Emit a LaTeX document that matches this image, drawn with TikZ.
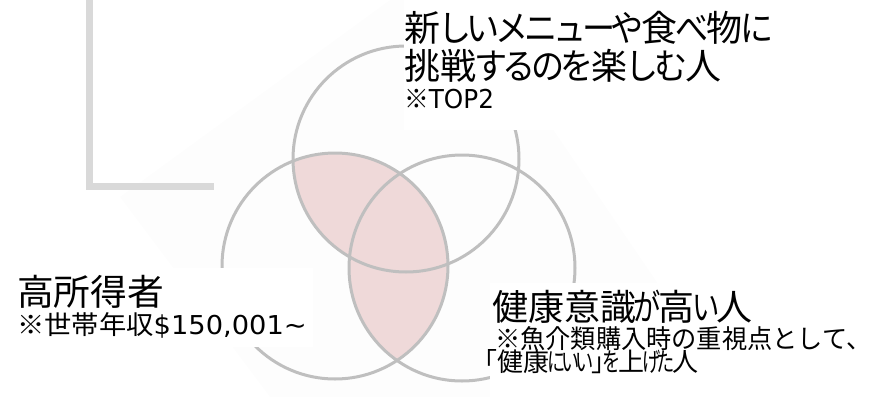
\documentclass[tikz,border=0pt]{standalone}
\usepackage{fontspec}
\newfontfamily\jp{Noto Sans CJK JP}
\newfontfamily\lat{DejaVu Sans}
% proportional kana of three widths
\newcommand\ka[1]{\makebox[0.8em]{\scalebox{0.92}[1]{#1}}}
\newcommand\kb[1]{\makebox[0.62em]{\scalebox{0.76}[1]{#1}}}
\newcommand\kc[1]{\makebox[0.54em]{\scalebox{0.7}[1]{#1}}}
\definecolor{venn}{HTML}{BFBFBF}
\definecolor{lens}{HTML}{EFD9D9}
\definecolor{framegray}{HTML}{D9D9D9}
\definecolor{haze}{HTML}{FDFDFD}
\begin{document}
\begin{tikzpicture}[x=1pt,y=-1pt,
  big/.style={anchor=base west, inner sep=0pt, font=\jp\fontsize{36}{40}\selectfont},
  small/.style={anchor=base west, inner sep=0pt, font=\jp\fontsize{26}{30}\selectfont},
  ring/.style={draw=venn, line width=3pt},
  mask/.style={fill=white}]
\useasboundingbox (0,0) rectangle (871,397);
% faint backdrop
\fill[haze] (120,197) -- (390,0) -- (465,0) -- (735,397) -- (270,397) -- cycle;
% corner frame
\draw[framegray, line width=7pt] (89.5,-5) -- (89.5,186.5) -- (214,186.5);
% circle centres
\coordinate (ct) at (406,159);
\coordinate (cl) at (335,266);
\coordinate (cr) at (462,268);
% shaded overlaps
\begin{scope}
  \clip (cl) circle[radius=113pt];
  \fill[lens] (ct) circle[radius=113pt];
  \fill[lens] (cr) circle[radius=113pt];
\end{scope}
\draw[ring] (ct) circle[radius=113pt];
\draw[ring] (cl) circle[radius=113pt];
\draw[ring] (cr) circle[radius=113pt];
% white label backgrounds
\fill[mask] (404,0) rectangle (780,130);
\fill[mask] (0,268) rectangle (313,347);
\fill[mask] (490,283) rectangle (871,397);
% labels
\node[big] (a1) at (404,41) {新\ka{し}\ka{い}\ka{メ}\ka{ニ}\ka{ュ}\ka{ー}\ka{や}食\ka{べ}物\ka{に}};
\node[big] (a2) at (404,79) {挑戦\ka{す}\ka{る}\ka{の}\ka{を}楽\ka{し}\ka{む}人};
\node[small] (a3) at (404,108) {\scalebox{0.95}[1]{※{\lat TOP2}}};
\node[big] (b1) at (17,305) {\scalebox{1.02}[1]{高所得者}};
\node[small] (b2) at (17,334) {\scalebox{1.05}[1]{※世帯年収{\lat \$150,001\textasciitilde}}};
\node[big] (c1) at (492,320) {健康意識\kb{が}高\kb{い}人};
\node[small] (c2) at (495,348) {\scalebox{0.97}[1]{※魚介類購入時の重視点として、}};
\node[small] (c3) at (487,371) {\makebox[0.4em][r]{「}健康\kc{に}\kc{い}\kc{い}\makebox[0.5em][l]{」}\kc{を}上\kc{げ}\kc{た}人};
\end{tikzpicture}
\end{document}
